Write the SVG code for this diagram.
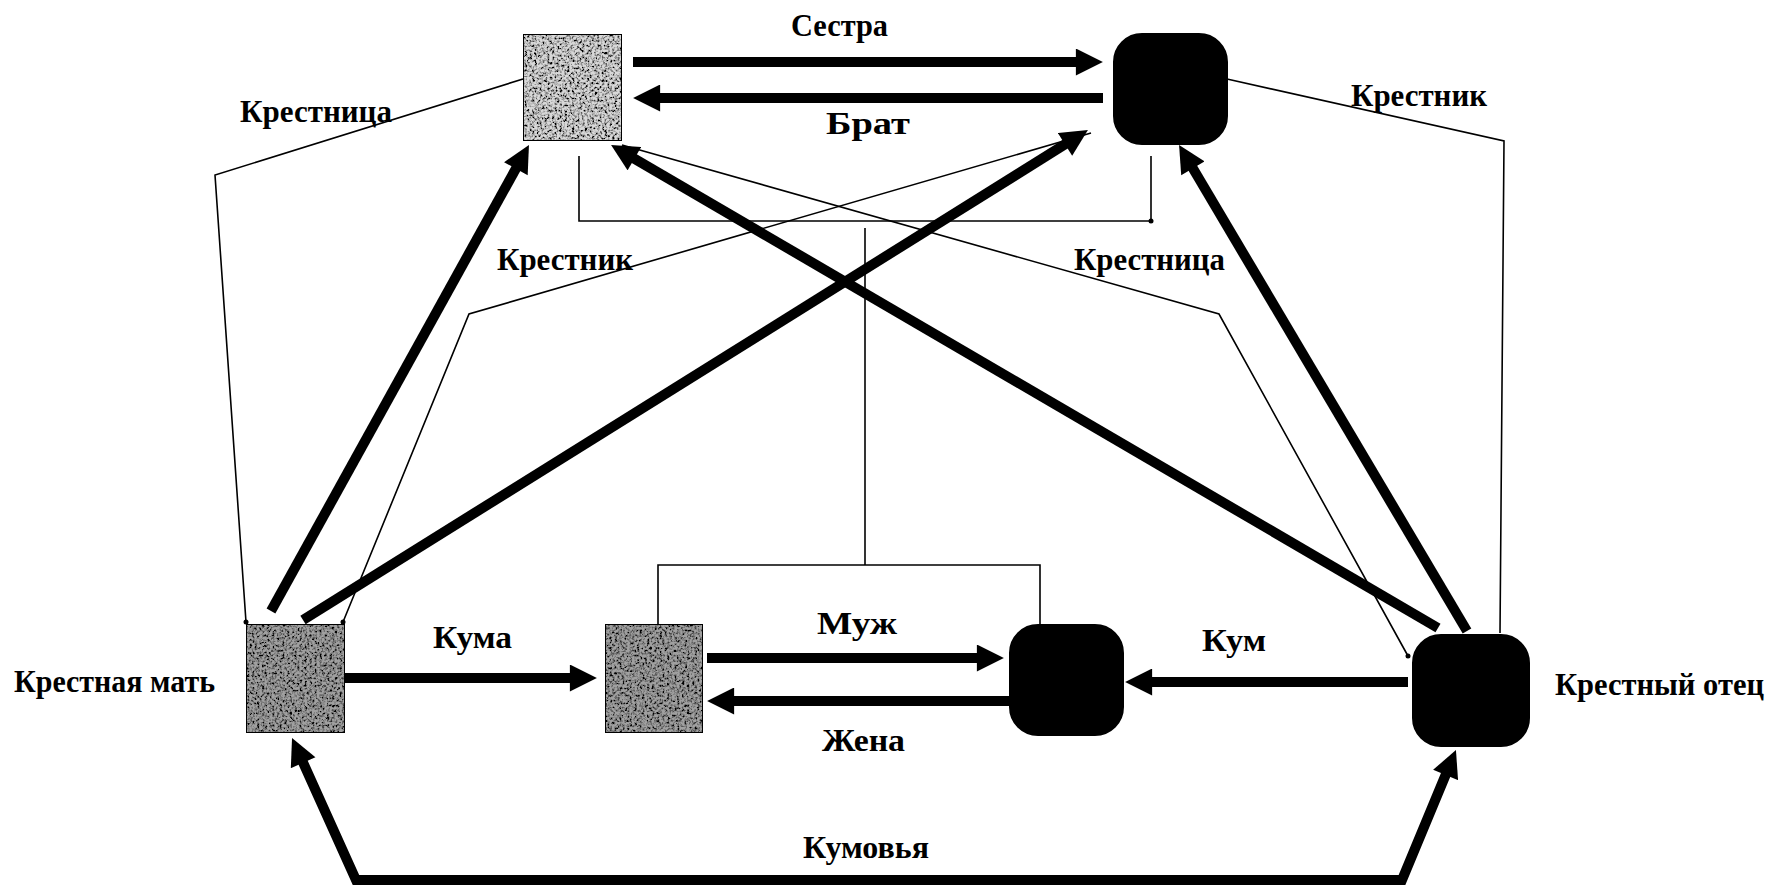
<svg xmlns="http://www.w3.org/2000/svg" width="1773" height="889" viewBox="0 0 1773 889">
<style>
.lbl{font-family:"Liberation Serif","Times New Roman",serif;font-weight:bold;font-size:32px;fill:#000}
.thick{stroke:#000;stroke-width:10;fill:none;marker-end:url(#ah)}
.thin{stroke:#000;stroke-width:1.6;fill:none}
.sq{stroke:#000;stroke-width:2}
.blk{fill:#000;stroke:#000;stroke-width:2}
</style>
<defs>
<marker id="ah" viewBox="0 0 10 10" refX="3" refY="5" markerWidth="2.8" markerHeight="2.7" orient="auto-start-reverse" markerUnits="strokeWidth">
<path d="M0,0 L10,5 L0,10 z" fill="#000"/>
</marker>
<filter id="grain" x="0" y="0" width="100%" height="100%">
<feTurbulence type="fractalNoise" baseFrequency="0.4" numOctaves="3" seed="4" result="n"/>
<feColorMatrix in="n" type="matrix" values="0 0 0 0 0  0 0 0 0 0  0 0 0 0 0  3.2 0 0 0 -1.3" result="a"/>
<feComposite in="a" in2="SourceGraphic" operator="in" result="dots"/>
<feMerge><feMergeNode in="SourceGraphic"/><feMergeNode in="dots"/></feMerge>
</filter>
</defs>
<rect width="1773" height="889" fill="#fff"/>
<g id="connectors">
<path class="thin" d="M523,79 L215,175 L246,622"/>
<circle cx="246" cy="622" r="2.5"/>
<path class="thin" d="M1227,79 L1504,141 L1500,633"/>
<path class="thin" d="M579,156 L579,221 L1151,221 L1151,156"/>
<circle cx="1151" cy="221" r="2.5"/>
<path class="thin" d="M865,228 L865,565"/>
<path class="thin" d="M658,624 L658,565 L1040,565 L1040,624"/>
<path class="thin" d="M1091,133 L469,314 L343,622"/>
<circle cx="343" cy="622" r="2.5"/>
<path class="thin" d="M622,145 L1219,314 L1408,656"/>
<circle cx="1408" cy="656" r="2.5"/>
<line class="thick" x1="633" y1="62" x2="1084" y2="62"/>
<line class="thick" x1="1103" y1="98" x2="652" y2="98"/>
<line class="thick" x1="271" y1="611" x2="519.8" y2="161.6"/>
<line class="thick" x1="303" y1="620" x2="1071.9" y2="140.1"/>
<line class="thick" x1="1438" y1="628" x2="627.4" y2="154.6"/>
<line class="thick" x1="1467" y1="631" x2="1188.7" y2="161.3"/>
<line class="thick" x1="345" y1="678" x2="578" y2="678"/>
<line class="thick" x1="707" y1="658" x2="985" y2="658"/>
<line class="thick" x1="1010" y1="701" x2="726" y2="701"/>
<line class="thick" x1="1408" y1="682" x2="1144" y2="682"/>
<path class="thick" style="marker-start:url(#ah)" d="M299.8,755.3 L356,880 L1402,880 L1448.7,767.5"/>
</g>
<g id="node-sister">
<rect class="sq" x="523" y="34" width="99" height="107" fill="#d8d8d8" filter="url(#grain)"/>
</g>
<g id="node-brother">
<rect class="blk" x="1114" y="34" width="113" height="110" rx="28"/>
</g>
<g id="node-godmother">
<rect class="sq" x="246" y="624" width="99" height="109" fill="#a0a0a0" filter="url(#grain)"/>
</g>
<g id="node-wife">
<rect class="sq" x="605" y="624" width="98" height="109" fill="#a0a0a0" filter="url(#grain)"/>
</g>
<g id="node-husband">
<rect class="blk" x="1010" y="625" width="113" height="110" rx="28"/>
</g>
<g id="node-godfather">
<rect class="blk" x="1413" y="635" width="116" height="111" rx="28"/>
</g>
<g id="labels">
<text class="lbl" x="791" y="36" textLength="97" lengthAdjust="spacingAndGlyphs">Сестра</text>
<text class="lbl" x="826" y="134" textLength="84" lengthAdjust="spacingAndGlyphs">Брат</text>
<text class="lbl" x="240" y="122" textLength="152" lengthAdjust="spacingAndGlyphs">Крестница</text>
<text class="lbl" x="1351" y="106" textLength="136" lengthAdjust="spacingAndGlyphs">Крестник</text>
<text class="lbl" x="497" y="270" textLength="136" lengthAdjust="spacingAndGlyphs">Крестник</text>
<text class="lbl" x="1074" y="270" textLength="151" lengthAdjust="spacingAndGlyphs">Крестница</text>
<text class="lbl" x="14" y="692" textLength="201" lengthAdjust="spacingAndGlyphs">Крестная мать</text>
<text class="lbl" x="433" y="648" textLength="79" lengthAdjust="spacingAndGlyphs">Кума</text>
<text class="lbl" x="817" y="634" textLength="80" lengthAdjust="spacingAndGlyphs">Муж</text>
<text class="lbl" x="822" y="751" textLength="83" lengthAdjust="spacingAndGlyphs">Жена</text>
<text class="lbl" x="1202" y="651" textLength="64" lengthAdjust="spacingAndGlyphs">Кум</text>
<text class="lbl" x="1555" y="695" textLength="209" lengthAdjust="spacingAndGlyphs">Крестный отец</text>
<text class="lbl" x="803" y="858" textLength="126" lengthAdjust="spacingAndGlyphs">Кумовья</text>
</g>
</svg>
